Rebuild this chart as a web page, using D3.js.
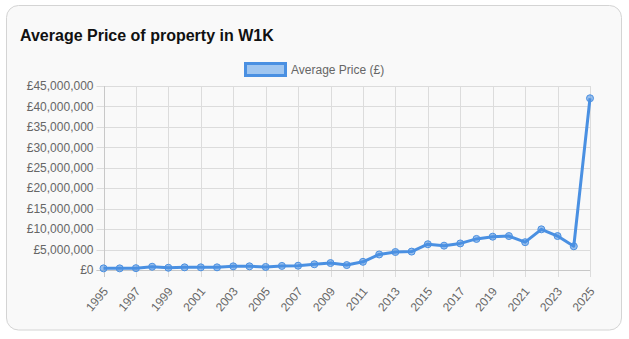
<!DOCTYPE html>
<html>
<head>
<meta charset="utf-8">
<script src="https://cdn.jsdelivr.net/npm/d3@7"></script>
<style>
html,body{margin:0;padding:0;background:#fff;}
svg{display:block;}
</style>
</head>
<body>
<svg id="chart" width="629" height="339"></svg>
<script>
const years = ["1995","1996","1997","1998","1999","2000","2001","2002","2003","2004","2005","2006","2007","2008","2009","2010","2011","2012","2013","2014","2015","2016","2017","2018","2019","2020","2021","2022","2023","2024","2025"];
const prices = [400000,400000,450000,800000,550000,650000,650000,650000,900000,900000,750000,1000000,1050000,1400000,1700000,1200000,2000000,3800000,4400000,4500000,6300000,5950000,6500000,7600000,8150000,8300000,6800000,9950000,8300000,5800000,42000000];
const yTicks = [0,5000000,10000000,15000000,20000000,25000000,30000000,35000000,40000000,45000000];
const xTickLabels = years.filter((d,i)=>i%2===0);
const titleText = "Average Price of property in W1K";
const seriesName = "Average Price (£)";

(function(){
const svg = d3.select("#chart");
const font = "Helvetica, Arial, 'Liberation Sans', sans-serif";
const blue = "#4a90e2";

svg.append("rect").attr("x",6.5).attr("y",5.5).attr("width",615).attr("height",324.5)
  .attr("rx",12).attr("fill","#f9f9f9").attr("stroke","#d4d4d4").attr("stroke-width",1);

svg.append("text").attr("x",20).attr("y",41).text(titleText)
  .attr("font-family",font).attr("font-weight","bold").attr("font-size",16).attr("fill","#111");

const pL=103.5, pR=590, pT=86, pB=270;
const x = d3.scalePoint().domain(years).range([pL,pR]);
const y = d3.scaleLinear().domain([0,45000000]).range([pB,pT]);

const grid = svg.append("g");
grid.selectAll("line.h").data(yTicks).join("line")
  .attr("x1",pL-7).attr("x2",pR).attr("y1",d=>Math.round(y(d))+0.5).attr("y2",d=>Math.round(y(d))+0.5)
  .attr("stroke","#dcdcdc").attr("stroke-width",1);
grid.selectAll("line.v").data(xTickLabels).join("line")
  .attr("x1",d=>Math.round(x(d))+0.5).attr("x2",d=>Math.round(x(d))+0.5).attr("y1",pT).attr("y2",pB+7)
  .attr("stroke","#dcdcdc").attr("stroke-width",1);
svg.append("line").attr("x1",Math.round(pL)+0.5).attr("x2",Math.round(pL)+0.5).attr("y1",pT).attr("y2",pB+7).attr("stroke","#c8c8c8");
svg.append("line").attr("x1",pL-7).attr("x2",pR).attr("y1",Math.round(y(0))+0.5).attr("y2",Math.round(y(0))+0.5).attr("stroke","#c8c8c8");

const fmt = d => "£" + d3.format(",")(d);
svg.append("g").selectAll("text").data(yTicks).join("text")
  .attr("x",pL-10).attr("y",d=>y(d)).attr("dy","0.35em").attr("text-anchor","end")
  .attr("font-family",font).attr("font-size",12).attr("fill","#666").text(fmt);

svg.append("g").selectAll("text").data(xTickLabels).join("text")
  .attr("transform",d=>`translate(${x(d)+2},${pB+19}) rotate(-50)`)
  .attr("text-anchor","end").attr("dy","0.35em")
  .attr("font-family",font).attr("font-size",12).attr("fill","#666").text(d=>d);

const line = d3.line().x((d,i)=>x(years[i])).y(d=>y(d));
svg.append("path").datum(prices).attr("d",line).attr("fill","none")
  .attr("stroke",blue).attr("stroke-width",3).attr("stroke-linejoin","round");
svg.append("g").selectAll("circle").data(prices).join("circle")
  .attr("cx",(d,i)=>x(years[i])).attr("cy",d=>y(d)).attr("r",3.5)
  .attr("fill","rgba(74,144,226,0.55)").attr("stroke",blue).attr("stroke-width",1);

const lg = svg.append("g");
lg.append("rect").attr("x",245.5).attr("y",63.5).attr("width",40).attr("height",12)
  .attr("fill","#a0c6f0").attr("stroke",blue).attr("stroke-width",3);
lg.append("text").attr("x",291).attr("y",70).attr("dy","0.35em").text(seriesName)
  .attr("font-family",font).attr("font-size",12).attr("fill","#666");
})();
</script>
</body>
</html>
